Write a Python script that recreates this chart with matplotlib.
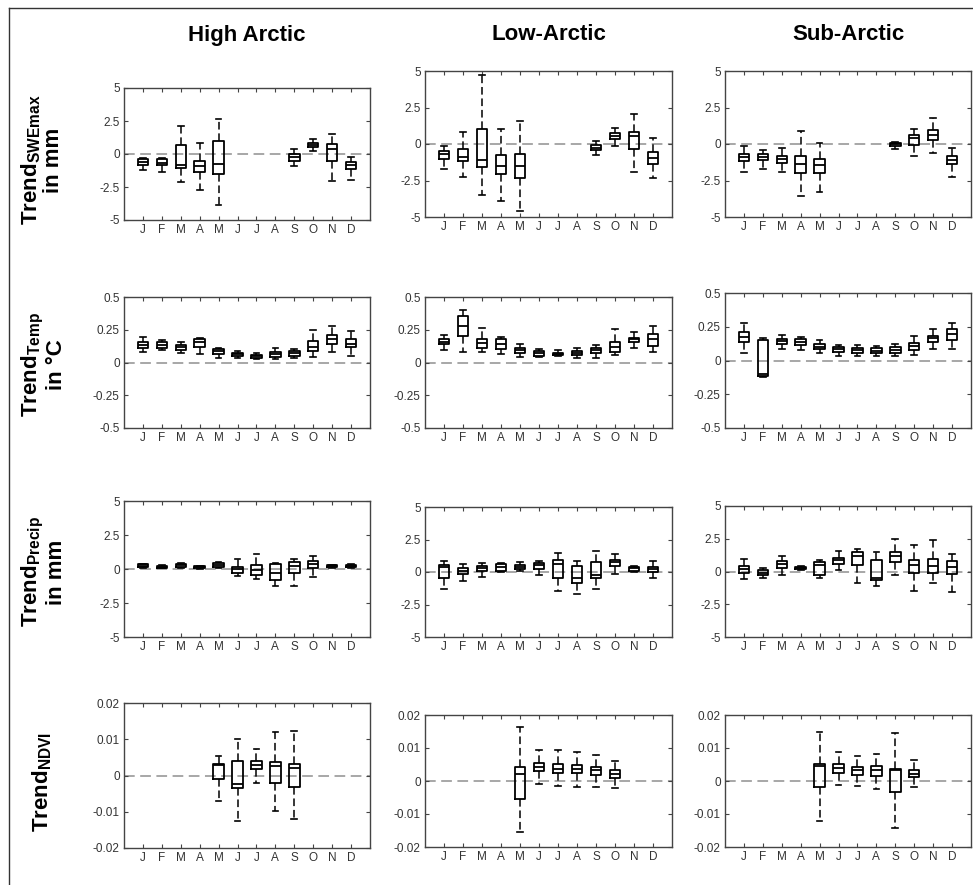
import numpy as np
import matplotlib
matplotlib.use('Agg')
import matplotlib.pyplot as plt
from matplotlib.lines import Line2D
from matplotlib.ticker import FuncFormatter

plt.rcParams['font.family'] = ['Liberation Sans', 'DejaVu Sans']
plt.rcParams['mathtext.fontset'] = 'custom'
plt.rcParams['mathtext.rm'] = 'Liberation Sans'
plt.rcParams['mathtext.bf'] = 'Liberation Sans:bold'
plt.rcParams['axes.unicode_minus'] = False

months = ['J', 'F', 'M', 'A', 'M', 'J', 'J', 'A', 'S', 'O', 'N', 'D']
regions = ['High Arctic', 'Low-Arctic', 'Sub-Arctic']

# per month: (lower whisker, q1, median, q3, upper whisker); None = no box
swe_high = [(-1.2, -0.8, -0.6, -0.4, -0.3), (-1.37, -0.8, -0.65, -0.4, -0.3),
            (-2.1, -1.05, -0.8, 0.7, 2.1), (-2.7, -1.4, -0.9, -0.5, 0.85),
            (-3.85, -1.55, -0.75, 0.95, 2.65), None, None, None,
            (-0.9, -0.5, -0.25, 0.0, 0.35), (0.25, 0.55, 0.65, 0.85, 1.1),
            (-2.05, -0.55, 0.38, 0.75, 1.5), (-1.97, -1.15, -0.85, -0.58, -0.25)]
swe_low = [(-1.7, -1.0, -0.7, -0.48, -0.14), (-2.26, -1.16, -0.9, -0.37, 0.85),
           (-3.47, -1.58, -1.07, 1.0, 4.7), (-3.88, -2.03, -1.53, -0.75, 1.03),
           (-4.59, -2.33, -1.48, -0.7, 1.58), None, None, None,
           (-0.75, -0.39, -0.25, -0.1, 0.2), (-0.14, 0.34, 0.55, 0.75, 1.1),
           (-1.9, -0.34, 0.52, 0.82, 2.08), (-2.33, -1.35, -0.94, -0.55, 0.43)]
swe_sub = [(-1.9, -1.16, -0.89, -0.66, -0.14), (-1.74, -1.12, -0.89, -0.7, -0.39),
           (-1.9, -1.28, -1.05, -0.85, -0.27), (-3.58, -1.96, -1.39, -0.8, 0.89),
           (-3.26, -1.96, -1.46, -1.0, 0.05), None, None, None,
           (-0.32, -0.11, -0.02, 0.09, 0.16), (-0.8, -0.09, 0.43, 0.64, 1.05),
           (-0.6, 0.27, 0.62, 0.96, 1.8), (-2.24, -1.39, -1.12, -0.85, -0.27)]

temp_high = [(0.081, 0.107, 0.137, 0.158, 0.196), (0.094, 0.112, 0.135, 0.153, 0.17),
             (0.074, 0.094, 0.115, 0.132, 0.153), (0.066, 0.12, 0.153, 0.18, 0.185),
             (0.036, 0.064, 0.084, 0.10, 0.112), (0.036, 0.048, 0.064, 0.076, 0.089),
             (0.025, 0.036, 0.048, 0.061, 0.069), (0.028, 0.043, 0.066, 0.081, 0.112),
             (0.038, 0.048, 0.069, 0.087, 0.10), (0.043, 0.089, 0.12, 0.165, 0.247),
             (0.081, 0.145, 0.18, 0.209, 0.277), (0.051, 0.12, 0.145, 0.178, 0.242)]
temp_low = [(0.094, 0.14, 0.16, 0.176, 0.209), (0.081, 0.2, 0.277, 0.354, 0.4),
            (0.081, 0.112, 0.15, 0.183, 0.267), (0.064, 0.10, 0.14, 0.176, 0.196),
            (0.043, 0.074, 0.094, 0.112, 0.14), (0.043, 0.051, 0.069, 0.087, 0.10),
            (0.051, 0.058, 0.066, 0.074, 0.092), (0.038, 0.056, 0.071, 0.089, 0.112),
            (0.038, 0.074, 0.092, 0.11, 0.13), (0.056, 0.081, 0.12, 0.158, 0.254),
            (0.107, 0.16, 0.176, 0.19, 0.234), (0.081, 0.127, 0.176, 0.22, 0.277)]
temp_sub = [(0.059, 0.138, 0.172, 0.214, 0.28), (-0.125, -0.113, -0.098, 0.152, 0.17),
            (0.088, 0.123, 0.145, 0.162, 0.19), (0.079, 0.115, 0.138, 0.157, 0.177),
            (0.054, 0.086, 0.103, 0.12, 0.15), (0.037, 0.066, 0.086, 0.103, 0.115),
            (0.037, 0.059, 0.076, 0.091, 0.115), (0.03, 0.059, 0.074, 0.091, 0.108),
            (0.03, 0.059, 0.079, 0.098, 0.123), (0.039, 0.079, 0.11, 0.133, 0.182),
            (0.088, 0.14, 0.165, 0.184, 0.233), (0.084, 0.152, 0.197, 0.231, 0.28)]

precip_high = [(0.05, 0.12, 0.24, 0.34, 0.4), (0.05, 0.1, 0.17, 0.24, 0.27),
               (0.07, 0.17, 0.29, 0.39, 0.46), (0.02, 0.07, 0.12, 0.2, 0.22),
               (0.05, 0.12, 0.27, 0.41, 0.54), (-0.51, -0.32, -0.02, 0.12, 0.71),
               (-0.76, -0.44, -0.07, 0.29, 1.1), (-1.24, -0.8, -0.32, 0.34, 0.46),
               (-1.24, -0.32, 0.24, 0.54, 0.76), (-0.61, 0.1, 0.37, 0.59, 0.95),
               (0.07, 0.12, 0.2, 0.27, 0.29), (0.05, 0.12, 0.22, 0.29, 0.34)]
precip_low = [(-1.28, -0.48, 0.36, 0.54, 0.87), (-0.66, -0.15, 0.1, 0.28, 0.61),
              (-0.41, 0.1, 0.28, 0.46, 0.71), (0.03, 0.1, 0.41, 0.59, 0.66),
              (0.1, 0.23, 0.41, 0.54, 0.79), (-0.23, 0.23, 0.51, 0.71, 0.87),
              (-1.45, -0.48, 0.61, 0.92, 1.48), (-1.68, -0.82, -0.48, 0.46, 0.87),
              (-1.28, -0.48, -0.23, 0.79, 1.63), (-0.15, 0.46, 0.77, 0.92, 1.38),
              (0.03, 0.1, 0.28, 0.41, 0.48), (-0.48, -0.03, 0.23, 0.41, 0.87)]
precip_sub = [(-0.61, -0.1, 0.2, 0.41, 0.96), (-0.48, -0.3, -0.1, 0.1, 0.23),
              (-0.23, 0.28, 0.56, 0.79, 1.22), (0.15, 0.2, 0.28, 0.36, 0.41),
              (-0.46, -0.3, 0.46, 0.71, 0.86), (0.15, 0.58, 0.86, 1.04, 1.55),
              (-0.86, 0.46, 1.17, 1.52, 1.75), (-1.12, -0.66, -0.5, 0.91, 1.47),
              (-0.3, 0.71, 1.17, 1.47, 2.49), (-1.5, -0.15, 0.53, 0.91, 2.06),
              (-0.86, -0.15, 0.41, 0.96, 2.39), (-1.57, -0.2, 0.36, 0.79, 1.37)]

ndvi_high = [None, None, None, None,
             (-0.0069, -0.001, 0.0029, 0.0033, 0.0054), (-0.0126, -0.0034, -0.0024, 0.0041, 0.01),
             (-0.002, 0.0017, 0.003, 0.0041, 0.0072), (-0.0098, -0.002, 0.0027, 0.0036, 0.0121),
             (-0.012, -0.0033, 0.0022, 0.0033, 0.0124), None, None, None]
ndvi_low = [None, None, None, None,
            (-0.0155, -0.0054, 0.0022, 0.0043, 0.0164), (-0.001, 0.0029, 0.0043, 0.0055, 0.0093),
            (-0.0016, 0.0025, 0.0037, 0.0053, 0.0093), (-0.0018, 0.0024, 0.0036, 0.0048, 0.0088),
            (-0.0018, 0.0019, 0.0032, 0.0043, 0.0078), (-0.0022, 0.001, 0.002, 0.0032, 0.0061),
            None, None]
ndvi_sub = [None, None, None, None,
            (-0.0122, -0.0018, 0.0045, 0.0053, 0.015), (-0.0013, 0.0024, 0.0038, 0.0051, 0.0088),
            (-0.0016, 0.0019, 0.0032, 0.0043, 0.0075), (-0.0024, 0.0016, 0.0032, 0.0045, 0.0081),
            (-0.0142, -0.0033, 0.0032, 0.0037, 0.0146), (-0.0018, 0.0012, 0.0022, 0.0034, 0.0063),
            None, None]

panels = [[swe_high, swe_low, swe_sub],
          [temp_high, temp_low, temp_sub],
          [precip_high, precip_low, precip_sub],
          [ndvi_high, ndvi_low, ndvi_sub]]
row_lims = [5, 0.5, 5, 0.02]
row_labels = [r'$\mathbf{Trend_{SWEmax}}$' + '\nin mm',
              r'$\mathbf{Trend_{Temp}}$' + '\nin °C',
              r'$\mathbf{Trend_{Precip}}$' + '\nin mm',
              r'$\mathbf{Trend_{NDVI}}$']

W, H = 973, 885
# axes boxes in pixels: left, top, right, bottom
boxes_px = [[(124, 88, 370, 220), (425, 71, 672, 217), (725, 71, 971, 217)],
            [(124, 297, 370, 428), (425, 297, 672, 428), (725, 293, 971, 428)],
            [(124, 501, 370, 637), (425, 507, 672, 637), (725, 506, 971, 637)],
            [(124, 703, 370, 848), (425, 715, 672, 847), (725, 715, 971, 847)]]
label_px = [(42, 160), (43, 365), (43, 572), (42, 782)]

fig = plt.figure(figsize=(W / 100, H / 100), dpi=100)

for r in range(4):
    lim = row_lims[r]
    for c in range(3):
        l, t, rr, b = boxes_px[r][c]
        ax = fig.add_axes([l / W, 1 - b / H, (rr - l) / W, (b - t) / H])
        stats, pos = [], []
        for i, v in enumerate(panels[r][c]):
            if v is None:
                continue
            lo, q1, med, q3, hi = v
            stats.append(dict(whislo=lo, q1=q1, med=med, q3=q3, whishi=hi, fliers=[]))
            pos.append(i + 1)
        ax.axhline(0, color='#8f8f8f', lw=1.1, ls=(0, (7, 3.6)), zorder=1)
        ax.bxp(stats, positions=pos, widths=0.55, capwidths=0.3, showfliers=False,
               manage_ticks=False,
               boxprops=dict(color='black', lw=1.3),
               medianprops=dict(color='black', lw=1.3),
               whiskerprops=dict(color='black', lw=1.1, ls=(0, (5, 2.5))),
               capprops=dict(color='black', lw=1.2))
        ax.set_xlim(0, 13)
        ax.set_ylim(-lim, lim)
        ax.set_xticks(range(1, 13))
        ax.set_xticklabels(months)
        ax.set_yticks(np.linspace(-lim, lim, 5))
        ax.yaxis.set_major_formatter(FuncFormatter(lambda v, p: f'{v:g}'))
        ax.tick_params(direction='in', top=True, right=True, length=3, width=0.8,
                       color='#444444', labelcolor='#333333', labelsize=8.5, pad=3)
        for s in ax.spines.values():
            s.set_color('#444444')
            s.set_linewidth(1.0)
        if r == 0:
            fig.text((l + rr) / 2 / W, 1 - 35 / H, regions[c], ha='center', va='center',
                     fontsize=16, fontweight='bold')
    x, y = label_px[r]
    fig.text(x / W, 1 - y / H, row_labels[r], rotation=90, ha='center', va='center',
             multialignment='center', fontsize=16, fontweight='bold', linespacing=1.0)

# thin frame around the figure
fig.add_artist(Line2D([9 / W, 9 / W], [0, 1 - 8 / H], color='#333333', lw=1.0,
                      transform=fig.transFigure))
fig.add_artist(Line2D([9 / W, 1], [1 - 8 / H, 1 - 8 / H], color='#333333', lw=1.0,
                      transform=fig.transFigure))

fig.savefig('out.png', dpi=100)
